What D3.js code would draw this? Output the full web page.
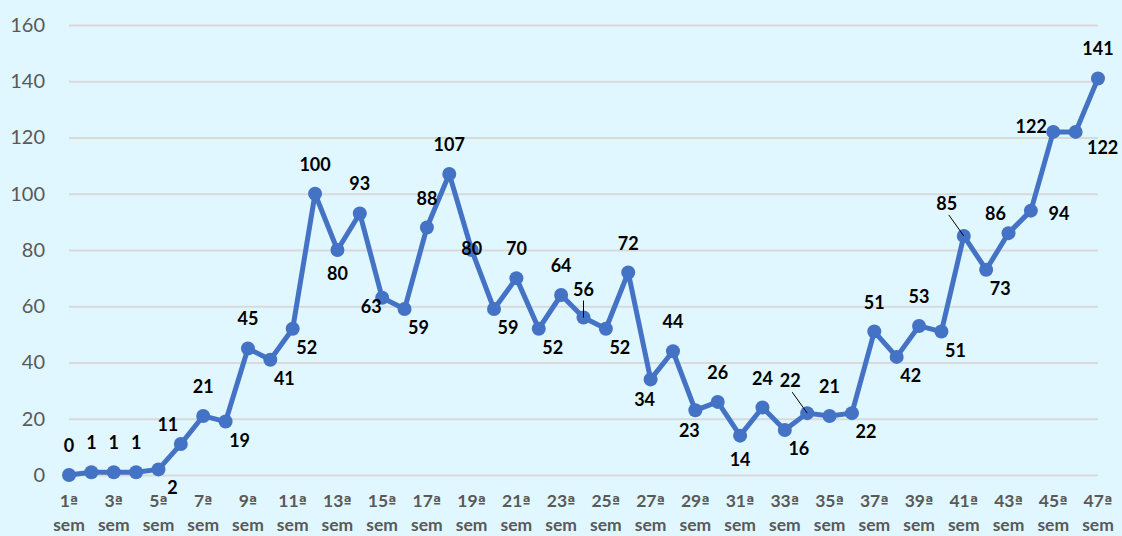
<!DOCTYPE html>
<html>
<head>
<meta charset="utf-8">
<script src="https://cdn.jsdelivr.net/npm/d3@7"></script>
<style>
  body { margin: 0; background: #e1f7ff; }
  svg { display: block; font-family: Lato, "Open Sans", sans-serif; }
</style>
</head>
<body>
<div id="chart"></div>
<script>
// semanas (1ª a 47ª) e casos por semana
const weeks = d3.range(1, 48).map(n => n + "ª sem");
const cases = [0, 1, 1, 1, 2, 11, 21, 19, 45, 41, 52, 100, 80, 93, 63, 59, 88, 107, 80, 59,
               70, 52, 64, 56, 52, 72, 34, 44, 23, 26, 14, 24, 16, 22, 21, 22, 51, 42, 53, 51,
               85, 73, 86, 94, 122, 122, 141];
const yTicks = [0, 20, 40, 60, 80, 100, 120, 140, 160];

// position of each data label relative to its point (as in the original)
const labelPos = ["t", "t", "t", "t", "br", "tl", "t", "br", "t", "br",
                  "br", "t", "b", "t", "lb", "br", "t", "t", "c", "br",
                  "t", "br", "t", "tL", "br", "t", "bl", "t", "bl", "t",
                  "b", "t", "br", "tlL", "t", "br", "t", "br", "t", "br",
                  "tlL", "br", "tl", "r", "l", "rb", "t"];
const offsets = {
  t: [0, -30], b: [0, 23], br: [14, 18], bl: [-6, 20], lb: [-11, 8],
  tl: [-13, -20], r: [28, 2], l: [-22, -6], rb: [27, 15], c: [0, -2],
  tL: [0, -29], tlL: [-17, -33]
};

const margin = {top: 25, right: 1098, bottom: 475, left: 69},
    width = 1122,
    height = 536;

const svg = d3.select("#chart").append("svg")
    .attr("width", width)
    .attr("height", height);

svg.append("rect")
    .attr("width", width)
    .attr("height", height)
    .attr("fill", "#e1f7ff");

const x = d3.scalePoint()
    .domain(weeks)
    .range([margin.left, margin.right]);

const y = d3.scaleLinear()
    .domain([0, 160])
    .range([margin.bottom, margin.top]);

// lignes de grille + étiquettes de l'axe y
const yAxis = svg.append("g")
    .attr("transform", "translate(" + margin.left + ",0)")
    .call(d3.axisLeft(y).tickValues(yTicks).tickSize(-(margin.right - margin.left)).tickPadding(24));
yAxis.select(".domain").remove();
yAxis.selectAll("line")
    .attr("stroke", "#d9d9d9")
    .attr("stroke-width", 2);
yAxis.selectAll("text")
    .attr("fill", "#595959")
    .style("font-size", "20px")
    .style("font-family", "Lato, sans-serif");

// étiquettes de l'axe x (une semaine sur deux, sur deux lignes)
const xLab = svg.append("g")
    .selectAll("g")
    .data(weeks.filter((d, i) => i % 2 === 0))
    .enter().append("g")
    .attr("fill", "#595959")
    .style("font-family", "Lato, sans-serif")
    .style("font-size", "17.5px")
    .style("font-weight", "bold");
const first = xLab.append("text")
    .attr("x", d => x(d))
    .attr("y", 507)
    .attr("text-anchor", "middle");
first.append("tspan")
    .text(d => d.split(" ")[0].slice(0, -1));
first.append("tspan")
    .style("font-family", "'DejaVu Sans', sans-serif")
    .style("font-size", "15px")
    .text("ª");
xLab.append("text")
    .attr("x", d => x(d))
    .attr("y", 531)
    .attr("text-anchor", "middle")
    .text(d => d.split(" ")[1]);

const data = weeks.map((w, i) => ({week: w, value: cases[i], pos: labelPos[i]}));

const line = d3.line()
    .x(d => x(d.week))
    .y(d => y(d.value));

svg.append("path")
    .datum(data)
    .attr("fill", "none")
    .attr("stroke", "#4472c4")
    .attr("stroke-width", 5)
    .attr("stroke-linejoin", "round")
    .attr("d", line);

svg.selectAll(".dot")
    .data(data)
    .enter().append("circle")
    .attr("class", "dot")
    .attr("cx", d => x(d.week))
    .attr("cy", d => y(d.value))
    .attr("r", 7)
    .attr("fill", "#4472c4");

// petites lignes de rappel pour certaines étiquettes
svg.selectAll(".leader")
    .data(data.filter(d => d.pos.endsWith("L")))
    .enter().append("line")
    .attr("class", "leader")
    .attr("x1", d => x(d.week) + offsets[d.pos][0] + (d.pos === "tL" ? 0 : 2))
    .attr("y1", d => y(d.value) + offsets[d.pos][1] + 12)
    .attr("x2", d => x(d.week))
    .attr("y2", d => y(d.value))
    .attr("stroke", "#000")
    .attr("stroke-width", 1);

svg.selectAll(".lbl")
    .data(data)
    .enter().append("text")
    .attr("class", "lbl")
    .attr("x", d => x(d.week) + offsets[d.pos][0])
    .attr("y", d => y(d.value) + offsets[d.pos][1])
    .attr("text-anchor", "middle")
    .attr("dominant-baseline", "central")
    .attr("fill", "#000")
    .style("font-size", "18px")
    .style("font-weight", "bold")
    .text(d => d.value);
</script>
</body>
</html>
